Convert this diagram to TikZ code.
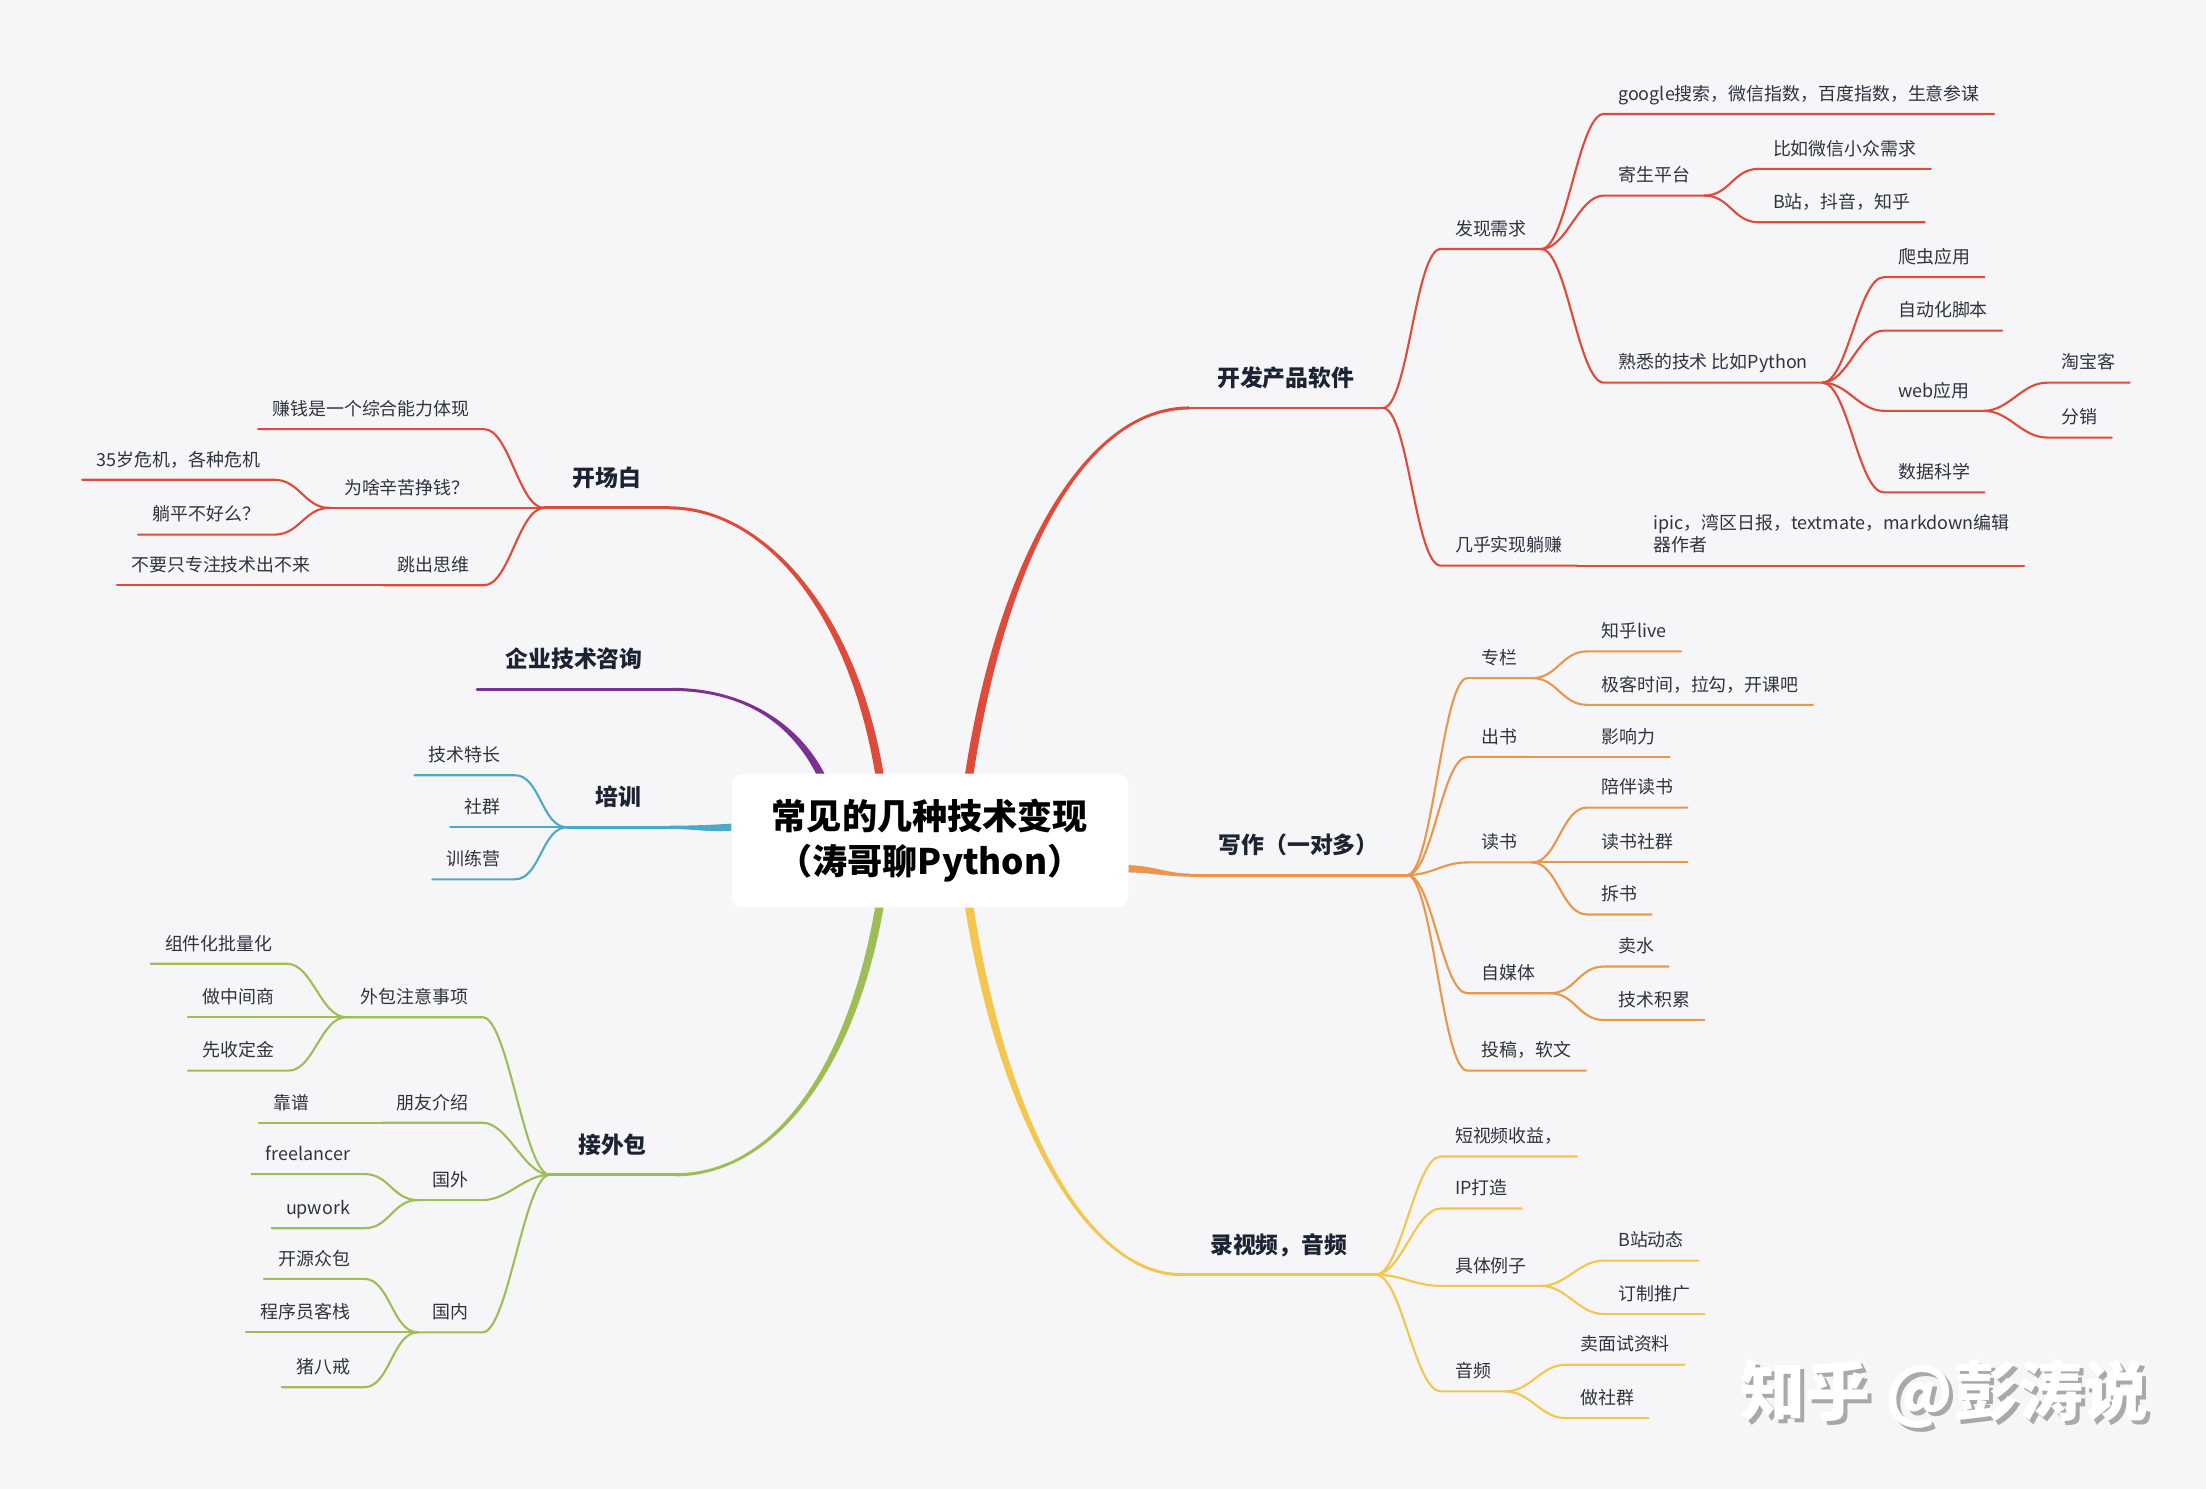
\documentclass[tikz,border=0pt]{standalone}
\usepackage{fontspec}
\setmainfont{Noto Sans CJK SC}
\usetikzlibrary{calc}
\definecolor{paper}{HTML}{F6F6F8}
\definecolor{ink}{HTML}{2E3340}
\definecolor{navy}{HTML}{1C2333}
\definecolor{brred}{HTML}{DF4B3B}
\definecolor{brorange}{HTML}{E9974B}
\definecolor{bryellow}{HTML}{F4C64E}
\definecolor{brgreen}{HTML}{9DBE55}
\definecolor{brblue}{HTML}{4EA9C8}
\definecolor{brpurple}{HTML}{7A3192}
\definecolor{shade}{HTML}{A9A9A9}
\tikzset{
  core/.style={rectangle, rounded corners=6pt, fill=white, align=center, minimum width=7.93cm, minimum height=2.67cm, font=\bfseries\fontsize{20}{26}\selectfont, text=black},
  topic/.style={inner xsep=16pt, inner ysep=0pt, text depth=12pt, font=\bfseries\fontsize{13}{15}\selectfont, text=navy},
  leaf/.style={inner xsep=8pt, inner ysep=0pt, text depth=7.6pt, font=\fontsize{10.2}{12.6}\selectfont, text=ink},
  toright/.style={anchor=south west},
  toleft/.style={anchor=south east},
  twig/.style={draw=#1, line width=1.2pt, line cap=round},
  bough/.style={draw=#1, line width=1.6pt, line cap=round},
  watermark/.style={font=\bfseries\fontsize{37}{40}\selectfont}
}
% thick tapered branch from the centre box to a topic
% #6 half width at the box, #7 half width at the topic
\newcommand\trunk[7]{%
  \fill[#1] ($(#2)-(#6)$) .. controls ($(#3)-(#6)$) and ($(#4)-(#7)$) .. ($(#5)-(#7)$)
    -- ($(#5)+(#7)$) .. controls ($(#4)+(#7)$) and ($(#3)+(#6)$) .. ($(#2)+(#6)$) -- cycle;}

\begin{document}
\begin{tikzpicture}[x=0.028138cm, y=-0.028138cm]
  \fill[paper] (0,0) rectangle (1568,1058);
  \useasboundingbox (0,0) rectangle (1568,1058);

  \node[core] (core) at (661,597.5) {常见的几种技术变现\\（涛哥聊Python）};
  \coordinate (core-r1) at ($(core.north)+(28,0)$);
  \coordinate (core-r2) at ($(core.north)+(-36,0)$);
  \coordinate (core-p) at ($(core.north)+(-78,0)$);
  \coordinate (core-b) at ($(core.west)+(0,-9.5)$);
  \coordinate (core-g) at ($(core.south)+(-36,0)$);
  \coordinate (core-y) at ($(core.south)+(28,0)$);
  \coordinate (core-o) at ($(core.east)+(0,20)$);

  % right: 开发产品软件
  \node[topic, toright] (dev) at (845,290) {开发产品软件};
  \node[leaf, toright] (need) at (1024,177) {发现需求};
  \node[leaf, toright] (seo) at (1140,81) {google搜索，微信指数，百度指数，生意参谋};
  \node[leaf, toright] (host) at (1140,139) {寄生平台};
  \node[leaf, toright] (wxneed) at (1250,120) {比如微信小众需求};
  \node[leaf, toright] (bili) at (1250,158) {B站，抖音，知乎};
  \node[leaf, toright] (tech) at (1140,272) {熟悉的技术 比如Python};
  \node[leaf, toright] (crawl) at (1339,197) {爬虫应用};
  \node[leaf, toright] (script) at (1339,235) {自动化脚本};
  \node[leaf, toright] (web) at (1339,292) {web应用};
  \node[leaf, toright] (tbk) at (1455,272) {淘宝客};
  \node[leaf, toright] (resell) at (1455,311) {分销};
  \node[leaf, toright] (dsci) at (1339,350) {数据科学};
  \node[leaf, toright] (lazy) at (1024,402) {几乎实现躺赚};
  \node[leaf, toright, align=left] (ipic) at (1165,402) {ipic，湾区日报，textmate，markdown编辑\\器作者};

  \trunk{brred}{core-r1}{712,400}{770,290}{dev.south west}{3,0}{0,1.1}
  \draw[bough=brred] (dev.south west) -- (dev.south east);
  \draw[twig=brred] (dev.south east) .. controls +(18,0) and +(-18,0) .. (need.south west) -- (need.south east);
  \draw[twig=brred] (dev.south east) .. controls +(18,0) and +(-18,0) .. (lazy.south west) -- (lazy.south east);
  \draw[twig=brred] (need.south east) .. controls +(18,0) and +(-18,0) .. (seo.south west) -- (seo.south east);
  \draw[twig=brred] (need.south east) .. controls +(18,0) and +(-18,0) .. (host.south west) -- (host.south east);
  \draw[twig=brred] (need.south east) .. controls +(18,0) and +(-18,0) .. (tech.south west) -- (tech.south east);
  \draw[twig=brred] (host.south east) .. controls +(18,0) and +(-18,0) .. (wxneed.south west) -- (wxneed.south east);
  \draw[twig=brred] (host.south east) .. controls +(18,0) and +(-18,0) .. (bili.south west) -- (bili.south east);
  \draw[twig=brred] (tech.south east) .. controls +(18,0) and +(-18,0) .. (crawl.south west) -- (crawl.south east);
  \draw[twig=brred] (tech.south east) .. controls +(18,0) and +(-18,0) .. (script.south west) -- (script.south east);
  \draw[twig=brred] (tech.south east) .. controls +(18,0) and +(-18,0) .. (web.south west) -- (web.south east);
  \draw[twig=brred] (tech.south east) .. controls +(18,0) and +(-18,0) .. (dsci.south west) -- (dsci.south east);
  \draw[twig=brred] (web.south east) .. controls +(18,0) and +(-18,0) .. (tbk.south west) -- (tbk.south east);
  \draw[twig=brred] (web.south east) .. controls +(18,0) and +(-18,0) .. (resell.south west) -- (resell.south east);
  \draw[twig=brred] (lazy.south east) -- (ipic.south west) -- (ipic.south east);

  % right: 写作（一对多）
  \node[topic, toright] (write) at (846,622) {写作（一对多）};
  \node[leaf, toright] (column) at (1043,482) {专栏};
  \node[leaf, toright] (zlive) at (1128,463) {知乎live};
  \node[leaf, toright] (geek) at (1128,501) {极客时间，拉勾，开课吧};
  \node[leaf, toright] (book) at (1043,538) {出书};
  \node[leaf, toright] (influ) at (1128,538) {影响力};
  \node[leaf, toright] (read) at (1043,613) {读书};
  \node[leaf, toright] (accomp) at (1128,574) {陪伴读书};
  \node[leaf, toright] (rgroup) at (1128,613) {读书社群};
  \node[leaf, toright] (split) at (1128,650) {拆书};
  \node[leaf, toright] (media) at (1043,706) {自媒体};
  \node[leaf, toright] (water) at (1140,687) {卖水};
  \node[leaf, toright] (accum) at (1140,725) {技术积累};
  \node[leaf, toright] (post) at (1043,761) {投稿，软文};

  \trunk{brorange}{core-o}{820,618}{830,622}{write.south west}{0,2.6}{0,1.1}
  \draw[bough=brorange] (write.south west) -- (write.south east);
  \draw[twig=brorange] (write.south east) .. controls +(18,0) and +(-18,0) .. (column.south west) -- (column.south east);
  \draw[twig=brorange] (write.south east) .. controls +(18,0) and +(-18,0) .. (book.south west) -- (book.south east);
  \draw[twig=brorange] (write.south east) .. controls +(18,0) and +(-18,0) .. (read.south west) -- (read.south east);
  \draw[twig=brorange] (write.south east) .. controls +(18,0) and +(-18,0) .. (media.south west) -- (media.south east);
  \draw[twig=brorange] (write.south east) .. controls +(18,0) and +(-18,0) .. (post.south west) -- (post.south east);
  \draw[twig=brorange] (column.south east) .. controls +(18,0) and +(-18,0) .. (zlive.south west) -- (zlive.south east);
  \draw[twig=brorange] (column.south east) .. controls +(18,0) and +(-18,0) .. (geek.south west) -- (geek.south east);
  \draw[twig=brorange] (book.south east) -- (influ.south west) -- (influ.south east);
  \draw[twig=brorange] (read.south east) .. controls +(18,0) and +(-18,0) .. (accomp.south west) -- (accomp.south east);
  \draw[twig=brorange] (read.south east) .. controls +(18,0) and +(-18,0) .. (rgroup.south west) -- (rgroup.south east);
  \draw[twig=brorange] (read.south east) .. controls +(18,0) and +(-18,0) .. (split.south west) -- (split.south east);
  \draw[twig=brorange] (media.south east) .. controls +(18,0) and +(-18,0) .. (water.south west) -- (water.south east);
  \draw[twig=brorange] (media.south east) .. controls +(18,0) and +(-18,0) .. (accum.south west) -- (accum.south east);

  % right: 录视频，音频
  \node[topic, toright] (video) at (840,906) {录视频，音频};
  \node[leaf, toright] (short) at (1024,822) {短视频收益，};
  \node[leaf, toright] (ipmake) at (1024,859) {IP打造};
  \node[leaf, toright] (cases) at (1024,914) {具体例子};
  \node[leaf, toright] (bdyn) at (1140,896) {B站动态};
  \node[leaf, toright] (promo) at (1140,934) {订制推广};
  \node[leaf, toright] (audio) at (1024,989) {音频};
  \node[leaf, toright] (sellq) at (1113,970) {卖面试资料};
  \node[leaf, toright] (sgroup) at (1113,1008) {做社群};

  \trunk{bryellow}{core-y}{712,790}{770,906}{video.south west}{3,0}{0,-1.1}
  \draw[bough=bryellow] (video.south west) -- (video.south east);
  \draw[twig=bryellow] (video.south east) .. controls +(18,0) and +(-18,0) .. (short.south west) -- (short.south east);
  \draw[twig=bryellow] (video.south east) .. controls +(18,0) and +(-18,0) .. (ipmake.south west) -- (ipmake.south east);
  \draw[twig=bryellow] (video.south east) .. controls +(18,0) and +(-18,0) .. (cases.south west) -- (cases.south east);
  \draw[twig=bryellow] (video.south east) .. controls +(18,0) and +(-18,0) .. (audio.south west) -- (audio.south east);
  \draw[twig=bryellow] (cases.south east) .. controls +(18,0) and +(-18,0) .. (bdyn.south west) -- (bdyn.south east);
  \draw[twig=bryellow] (cases.south east) .. controls +(18,0) and +(-18,0) .. (promo.south west) -- (promo.south east);
  \draw[twig=bryellow] (audio.south east) .. controls +(18,0) and +(-18,0) .. (sellq.south west) -- (sellq.south east);
  \draw[twig=bryellow] (audio.south east) .. controls +(18,0) and +(-18,0) .. (sgroup.south west) -- (sgroup.south east);

  % left: 开场白
  \node[topic, toleft] (opening) at (476,361) {开场白};
  \node[leaf, toleft] (ability) at (344,305) {赚钱是一个综合能力体现};
  \node[leaf, toleft] (why) at (344,361) {为啥辛苦挣钱？};
  \node[leaf, toleft] (crisis) at (195,341) {35岁危机，各种危机};
  \node[leaf, toleft] (flat) at (195,380) {躺平不好么？};
  \node[leaf, toleft] (jump) at (344,416) {跳出思维};
  \node[leaf, toleft] (notech) at (231,416) {不要只专注技术出不来};

  \trunk{brred}{core-r2}{605,430}{540,361}{opening.south east}{3,0}{0,-1.1}
  \draw[bough=brred] (opening.south east) -- (opening.south west);
  \draw[twig=brred] (opening.south west) .. controls +(-18,0) and +(18,0) .. (ability.south east) -- (ability.south west);
  \draw[twig=brred] (opening.south west) -- (why.south east) -- (why.south west);
  \draw[twig=brred] (opening.south west) .. controls +(-18,0) and +(18,0) .. (jump.south east) -- (jump.south west);
  \draw[twig=brred] (why.south west) .. controls +(-18,0) and +(18,0) .. (crisis.south east) -- (crisis.south west);
  \draw[twig=brred] (why.south west) .. controls +(-18,0) and +(18,0) .. (flat.south east) -- (flat.south west);
  \draw[twig=brred] (jump.south west) -- (notech.south east) -- (notech.south west);

  % left: 企业技术咨询
  \node[topic, toleft] (consult) at (477,490) {企业技术咨询};
  \trunk{brpurple}{core-p}{565,515}{530,490}{consult.south east}{3,0}{0,-1.1}
  \draw[bough=brpurple] (consult.south east) -- (consult.south west);

  % left: 培训
  \node[topic, toleft] (train) at (476,588) {培训};
  \node[leaf, toleft] (skill) at (366,551) {技术特长};
  \node[leaf, toleft] (community) at (366,588) {社群};
  \node[leaf, toleft] (camp) at (366,625) {训练营};

  \trunk{brblue}{core-b}{505,589}{490,588}{train.south east}{0,2.6}{0,1.1}
  \draw[bough=brblue] (train.south east) -- (train.south west);
  \draw[twig=brblue] (train.south west) .. controls +(-18,0) and +(18,0) .. (skill.south east) -- (skill.south west);
  \draw[twig=brblue] (train.south west) -- (community.south east) -- (community.south west);
  \draw[twig=brblue] (train.south west) .. controls +(-18,0) and +(18,0) .. (camp.south east) -- (camp.south west);

  % left: 接外包
  \node[topic, toleft] (outsrc) at (480,835) {接外包};
  \node[leaf, toleft] (notes) at (343,723) {外包注意事项};
  \node[leaf, toleft] (batch) at (204,685) {组件化批量化};
  \node[leaf, toleft] (middle) at (205,723) {做中间商};
  \node[leaf, toleft] (deposit) at (205,761) {先收定金};
  \node[leaf, toleft] (friend) at (343,798) {朋友介绍};
  \node[leaf, toleft] (reliable) at (230,798) {靠谱};
  \node[leaf, toleft] (abroad) at (343,853) {国外};
  \node[leaf, toleft] (freel) at (259,834.5) {freelancer};
  \node[leaf, toleft] (upw) at (259,873) {upwork};
  \node[leaf, toleft] (domestic) at (343,947) {国内};
  \node[leaf, toleft] (oss) at (259,909) {开源众包};
  \node[leaf, toleft] (kezhan) at (259,947) {程序员客栈};
  \node[leaf, toleft] (zbj) at (259,986) {猪八戒};

  \trunk{brgreen}{core-g}{605,760}{550,835}{outsrc.south east}{3,0}{0,1.1}
  \draw[bough=brgreen] (outsrc.south east) -- (outsrc.south west);
  \draw[twig=brgreen] (outsrc.south west) .. controls +(-18,0) and +(18,0) .. (notes.south east) -- (notes.south west);
  \draw[twig=brgreen] (outsrc.south west) .. controls +(-18,0) and +(18,0) .. (friend.south east) -- (friend.south west);
  \draw[twig=brgreen] (outsrc.south west) .. controls +(-18,0) and +(18,0) .. (abroad.south east) -- (abroad.south west);
  \draw[twig=brgreen] (outsrc.south west) .. controls +(-18,0) and +(18,0) .. (domestic.south east) -- (domestic.south west);
  \draw[twig=brgreen] (notes.south west) .. controls +(-18,0) and +(18,0) .. (batch.south east) -- (batch.south west);
  \draw[twig=brgreen] (notes.south west) -- (middle.south east) -- (middle.south west);
  \draw[twig=brgreen] (notes.south west) .. controls +(-18,0) and +(18,0) .. (deposit.south east) -- (deposit.south west);
  \draw[twig=brgreen] (friend.south west) -- (reliable.south east) -- (reliable.south west);
  \draw[twig=brgreen] (abroad.south west) .. controls +(-18,0) and +(18,0) .. (freel.south east) -- (freel.south west);
  \draw[twig=brgreen] (abroad.south west) .. controls +(-18,0) and +(18,0) .. (upw.south east) -- (upw.south west);
  \draw[twig=brgreen] (domestic.south west) .. controls +(-18,0) and +(18,0) .. (oss.south east) -- (oss.south west);
  \draw[twig=brgreen] (domestic.south west) -- (kezhan.south east) -- (kezhan.south west);
  \draw[twig=brgreen] (domestic.south west) .. controls +(-18,0) and +(18,0) .. (zbj.south east) -- (zbj.south west);

  % watermark
  \node[watermark, text=shade] (markshade) at (1385,994) {知乎 @彭涛说};
  \node[watermark, text=white] (mark) at (1382,991) {知乎 @彭涛说};
\end{tikzpicture}
\end{document}
